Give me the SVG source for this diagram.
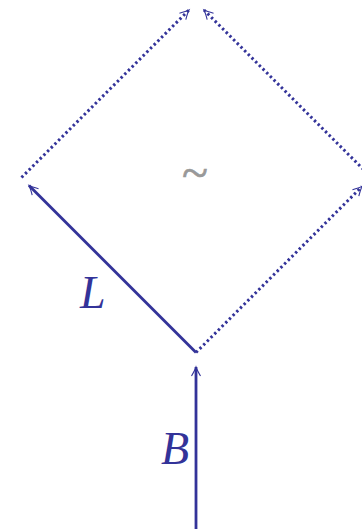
<svg xmlns="http://www.w3.org/2000/svg" width="362" height="530" viewBox="0 0 362 530">
<style>
.ln{stroke:#333399;stroke-width:2.8;fill:none}
.dot{stroke:#333399;stroke-width:3;fill:none;stroke-dasharray:2.4 2.8}
.lbl{font-family:"Liberation Serif",serif;font-style:italic;font-size:46px;fill:#333399}
.til{font-family:"Liberation Serif",serif;font-size:48px;fill:#999999;stroke:#999999;stroke-width:0.6}
</style>
<defs>
<marker id="ah" markerUnits="userSpaceOnUse" markerWidth="20" markerHeight="20" viewBox="-10 -10 20 20" refX="0" refY="0" orient="auto">
<path d="M-9,-4.5 Q-3,-1 0,0 Q-3,1 -9,4.5" fill="none" stroke="#333399" stroke-width="1.1"/>
</marker>
</defs>
<g id="connectors">
<line class="dot" x1="21.5" y1="177.5" x2="189" y2="10" marker-end="url(#ah)"/>
<line class="dot" x1="371" y1="177" x2="204" y2="10" marker-end="url(#ah)"/>
<line class="dot" x1="196" y1="352.5" x2="362" y2="186.5" marker-end="url(#ah)"/>
<line class="ln" x1="196" y1="352.5" x2="29" y2="185.5" marker-end="url(#ah)"/>
<line class="ln" x1="196" y1="529" x2="196" y2="367" marker-end="url(#ah)"/>
</g>
<g id="labels">
<text class="lbl" x="80" y="308">L</text>
<text class="lbl" x="161" y="464">B</text>
<text class="til" x="182" y="189">~</text>
</g>
</svg>
